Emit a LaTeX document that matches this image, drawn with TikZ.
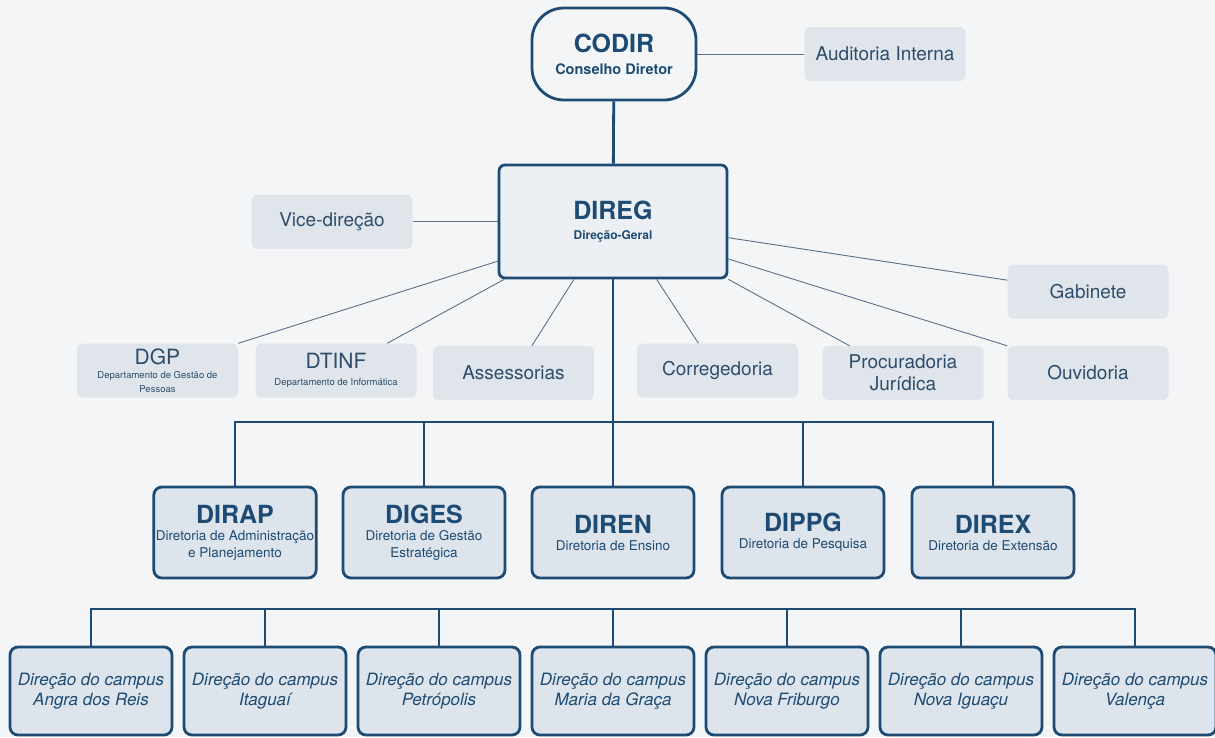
\documentclass[tikz,border=0pt]{standalone}
\usepackage{fontspec}
\setmainfont{TeX Gyre Heros}

\definecolor{navy}{HTML}{1D4B74}
\definecolor{bgcol}{HTML}{F4F5F6}
\definecolor{boxfill}{HTML}{DDE4EC}
\definecolor{diregfill}{HTML}{ECEFF3}
\definecolor{softfill}{HTML}{DFE5EB}
\definecolor{twiggray}{HTML}{5A7189}
\definecolor{labeltext}{HTML}{2D4D6B}

\newcommand{\boxtitle}[1]{{\bfseries\fontsize{25}{28}\selectfont #1}}
\newcommand{\softtitle}[1]{{\fontsize{21}{24}\selectfont #1}}

\tikzset{
  headbox/.style={draw=navy, line width=2.8pt, fill=boxfill, rounded corners=8pt,
    minimum width=162pt, minimum height=91pt, inner sep=2pt, align=center, text=navy,
    font=\fontsize{13.5}{17}\selectfont},
  campusbox/.style={headbox, minimum height=88pt, font=\itshape\fontsize{17}{19.5}\selectfont},
  softbox/.style={fill=softfill, rounded corners=6pt, minimum width=161pt,
    minimum height=54pt, inner sep=2pt, align=center, text=labeltext,
    font=\fontsize{19}{22}\selectfont},
  bar/.style={draw=navy, line width=2.8pt},
  twig/.style={draw=twiggray, line width=0.9pt},
}

\begin{document}
\begin{tikzpicture}[x=1pt,y=-1pt]

\fill [bgcol] (0,0) rectangle (1215,737);
\useasboundingbox (0,0) rectangle (1215,737);

\node [headbox,fill=bgcol,rounded corners=32pt,minimum width=164pt,minimum height=92pt,
  font=\bfseries\fontsize{14.5}{22}\selectfont] (codir) at (614,54) {\boxtitle{CODIR}\\Conselho Diretor};
\node [softbox] (audit) at (885,54) {Auditoria Interna};

\node [headbox,fill=diregfill,rounded corners=6pt,minimum width=228pt,minimum height=113pt,
  font=\bfseries\fontsize{12}{20}\selectfont] (direg) at (613,221.5) {\boxtitle{DIREG}\\Direção-Geral};
\node [softbox] (vice) at (332,221.5) {Vice-direção};
\node [softbox] (gabinete) at (1088,291.5) {Gabinete};

\node [softbox,font=\fontsize{9.5}{14}\selectfont] (dgp) at (157.5,370.5) {\softtitle{DGP}\\Departamento de Gestão de\\Pessoas};
\node [softbox,font=\fontsize{9.5}{17}\selectfont] (dtinf) at (336,370.5) {\softtitle{DTINF}\\Departamento de Informática};
\node [softbox] (assess) at (513.5,373) {Assessorias};
\node [softbox] (correg) at (717.5,370.5) {Corregedoria};
\node [softbox] (procur) at (903,373) {Procuradoria\\Jurídica};
\node [softbox] (ouvid) at (1088,373) {Ouvidoria};

\node [headbox] (dirap) at (235,532.5) {\boxtitle{DIRAP}\\Diretoria de Administração\\e Planejamento};
\node [headbox] (diges) at (424,532.5) {\boxtitle{DIGES}\\Diretoria de Gestão\\Estratégica};
\node [headbox] (diren) at (613,532.5) {\boxtitle{DIREN}\\Diretoria de Ensino};
\node [headbox] (dippg) at (803,532.5) {\boxtitle{DIPPG}\\Diretoria de Pesquisa};
\node [headbox] (direx) at (993,532.5) {\boxtitle{DIREX}\\Diretoria de Extensão};

\node [campusbox] (c1) at (91,691) {Direção do campus\\Angra dos Reis};
\node [campusbox] (c2) at (265,691) {Direção do campus\\Itaguaí};
\node [campusbox] (c3) at (439,691) {Direção do campus\\Petrópolis};
\node [campusbox] (c4) at (613,691) {Direção do campus\\Maria da Graça};
\node [campusbox] (c5) at (787,691) {Direção do campus\\Nova Friburgo};
\node [campusbox] (c6) at (961,691) {Direção do campus\\Nova Iguaçu};
\node [campusbox] (c7) at (1135,691) {Direção do campus\\Valença};

\draw [twig] (codir) -- (audit);
\draw [bar] (codir) -- (direg);
\draw [twig] (vice) -- (direg);
\draw [twig] (direg.199) -- (dgp.north east);
\draw [twig] (direg.208) -- (dtinf.28);
\draw [twig] (direg.236) -- (assess.56);
\draw [twig] (direg.307) -- (correg.125);
\draw [twig] (direg.south east) -- (procur.153);
\draw [twig] (direg.342) -- (ouvid.north west);
\draw [twig] (direg.352) -- (gabinete.172);

\coordinate (dirbus) at (613,422);
\draw [bar] (direg) -- (diren);
\draw [bar] (dirap.north) |- (dirbus) -| (direx.north);
\draw [bar] (diges.north) -- (diges.north |- dirbus);
\draw [bar] (dippg.north) -- (dippg.north |- dirbus);

\coordinate (campbus) at (613,609);
\draw [bar] (c1.north) |- (campbus) -| (c7.north);
\foreach \c in {c2,c3,c4,c5,c6}
  \draw [bar] (\c.north) -- (\c.north |- campbus);

\end{tikzpicture}
\end{document}
